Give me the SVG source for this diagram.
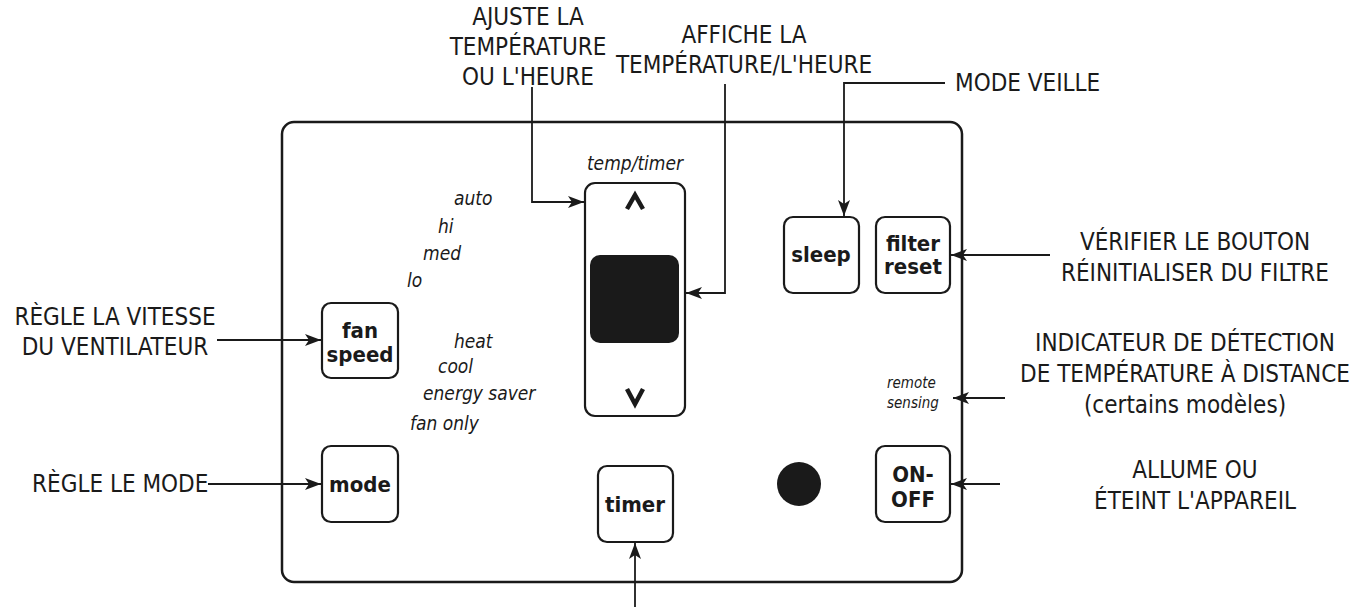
<svg xmlns="http://www.w3.org/2000/svg" width="1357" height="607" viewBox="0 0 1357 607">
<style>
.lbl{font-family:"DejaVu Sans Condensed","DejaVu Sans",sans-serif;font-size:24px;fill:#1a1a1a}
.it{font-family:"DejaVu Sans Condensed","DejaVu Sans",sans-serif;font-size:19px;font-style:italic;fill:#1a1a1a}
.its{font-family:"DejaVu Sans Condensed","DejaVu Sans",sans-serif;font-size:15px;font-style:italic;fill:#1a1a1a}
.btn{fill:#fff;stroke:#1a1a1a;stroke-width:2.2}
.bt{font-family:"DejaVu Sans Condensed","DejaVu Sans",sans-serif;font-size:22px;font-weight:bold;fill:#1a1a1a;text-anchor:middle}
.con{fill:none;stroke:#1a1a1a;stroke-width:1.8;marker-end:url(#ah)}
</style>
<defs>
<marker id="ah" viewBox="0 0 16 12" refX="16" refY="6" markerWidth="16" markerHeight="12" markerUnits="userSpaceOnUse" orient="auto">
<path d="M0,0 L16,6 L0,12 L4,6 Z" fill="#1a1a1a"/>
</marker>
</defs>
<rect width="1357" height="607" fill="#fff"/>
<g id="panel"><rect x="282" y="122" width="680" height="460" rx="12" fill="none" stroke="#1a1a1a" stroke-width="2.5"/></g>
<g id="display">
<rect class="btn" x="585" y="183" width="100" height="233" rx="10" stroke-width="1.8"/>
<rect x="590" y="255" width="89" height="88" rx="10" fill="#1a1a1a"/>
<text class="it" x="635" y="170" text-anchor="middle" font-size="17">temp/timer</text>
<path d="M627,209 L635,195 L643,209" fill="none" stroke="#1a1a1a" stroke-width="4.5"/>
<path d="M627,389 L635,404 L643,389" fill="none" stroke="#1a1a1a" stroke-width="4.5"/>
</g>
<g id="fanspeed"><rect class="btn" x="322" y="303" width="76" height="75" rx="9"/><text class="bt" x="360" y="338">fan</text><text class="bt" x="360" y="362">speed</text></g>
<g id="mode"><rect class="btn" x="322" y="446" width="76" height="76" rx="9"/><text class="bt" x="360" y="492">mode</text></g>
<g id="timer"><rect class="btn" x="598" y="466" width="75" height="76" rx="9"/><text class="bt" x="635" y="512">timer</text></g>
<g id="sleep"><rect class="btn" x="784" y="217" width="75" height="76" rx="9"/><text class="bt" x="821" y="262">sleep</text></g>
<g id="filter"><rect class="btn" x="876" y="217" width="74" height="76" rx="9"/><text class="bt" x="913" y="251">filter</text><text class="bt" x="913" y="274">reset</text></g>
<g id="onoff"><rect class="btn" x="876" y="446" width="74" height="76" rx="9"/><text class="bt" x="913" y="482">ON-</text><text class="bt" x="913" y="507">OFF</text></g>
<g id="led"><circle cx="799" cy="484" r="22" fill="#1a1a1a"/></g>
<g id="fanlabels">
<text class="it" x="454" y="205">auto</text><text class="it" x="438" y="233">hi</text><text class="it" x="423" y="260">med</text><text class="it" x="407" y="287">lo</text>
<text class="it" x="454" y="348">heat</text><text class="it" x="438" y="373">cool</text><text class="it" x="423" y="400">energy saver</text><text class="it" x="410" y="430">fan only</text>
<text class="its" x="887" y="388">remote</text><text class="its" x="887" y="408">sensing</text>
</g>
<g id="callouts">
<text class="lbl" x="528" y="25" text-anchor="middle">AJUSTE LA</text>
<text class="lbl" x="528" y="55" text-anchor="middle">TEMPÉRATURE</text>
<text class="lbl" x="528" y="85" text-anchor="middle">OU L'HEURE</text>
<text class="lbl" x="744" y="43" text-anchor="middle">AFFICHE LA</text>
<text class="lbl" x="744" y="73" text-anchor="middle">TEMPÉRATURE/L'HEURE</text>
<text class="lbl" x="955" y="91">MODE VEILLE</text>
<text class="lbl" x="115" y="325" text-anchor="middle">RÈGLE LA VITESSE</text>
<text class="lbl" x="115" y="355" text-anchor="middle">DU VENTILATEUR</text>
<text class="lbl" x="32" y="492">RÈGLE LE MODE</text>
<text class="lbl" x="1195" y="250" text-anchor="middle">VÉRIFIER LE BOUTON</text>
<text class="lbl" x="1195" y="281" text-anchor="middle">RÉINITIALISER DU FILTRE</text>
<text class="lbl" x="1185" y="351" text-anchor="middle">INDICATEUR DE DÉTECTION</text>
<text class="lbl" x="1185" y="382" text-anchor="middle">DE TEMPÉRATURE À DISTANCE</text>
<text class="lbl" x="1185" y="413" text-anchor="middle">(certains modèles)</text>
<text class="lbl" x="1195" y="478" text-anchor="middle">ALLUME OU</text>
<text class="lbl" x="1195" y="509" text-anchor="middle">ÉTEINT L'APPAREIL</text>
</g>
<g id="connectors">
<path class="con" d="M532,87 V202 H584"/>
<path class="con" d="M725,84 V293 H686"/>
<path class="con" d="M945,83 H844 V216"/>
<path class="con" d="M217,340 H321"/>
<path class="con" d="M208,484 H321"/>
<path class="con" d="M1050,255 H951"/>
<path class="con" d="M1005,398 H953"/>
<path class="con" d="M1000,484 H951"/>
<path class="con" d="M635,607 V543"/>
</g>
</svg>
